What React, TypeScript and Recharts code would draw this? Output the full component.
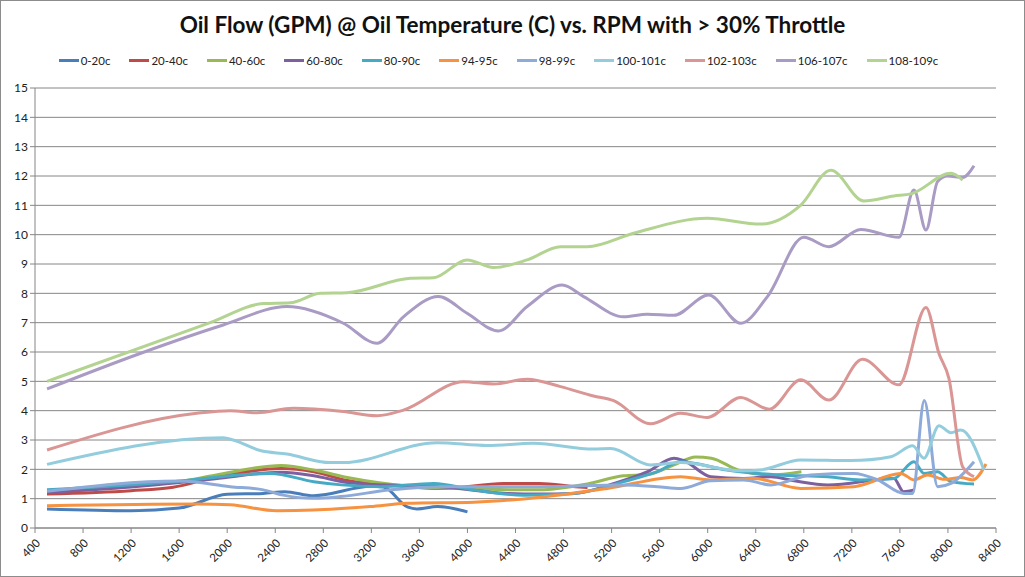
import { CartesianGrid, Legend, Line, LineChart, XAxis, YAxis } from "recharts"

// oil flow (gpm) by rpm, one list per oil temperature band
const s0to20 = [
  { rpm: 500, gpm: 0.65 }, { rpm: 1200, gpm: 0.59 }, { rpm: 1600, gpm: 0.68 },
  { rpm: 2000, gpm: 1.15 }, { rpm: 2300, gpm: 1.18 }, { rpm: 2480, gpm: 1.24 },
  { rpm: 2720, gpm: 1.1 }, { rpm: 3200, gpm: 1.42 }, { rpm: 3300, gpm: 1.4 },
  { rpm: 3500, gpm: 0.72 }, { rpm: 3580, gpm: 0.65 }, { rpm: 3750, gpm: 0.73 },
  { rpm: 4000, gpm: 0.55 },
]
const s20to40 = [
  { rpm: 500, gpm: 1.16 }, { rpm: 1200, gpm: 1.27 }, { rpm: 1550, gpm: 1.39 },
  { rpm: 1900, gpm: 1.73 }, { rpm: 2450, gpm: 2.03 }, { rpm: 2720, gpm: 1.92 },
  { rpm: 3000, gpm: 1.62 }, { rpm: 3200, gpm: 1.52 }, { rpm: 3500, gpm: 1.41 },
  { rpm: 3800, gpm: 1.35 }, { rpm: 4300, gpm: 1.52 }, { rpm: 4600, gpm: 1.52 },
  { rpm: 4900, gpm: 1.41 }, { rpm: 5000, gpm: 1.38 },
]
const s40to60 = [
  { rpm: 500, gpm: 1.25 }, { rpm: 1200, gpm: 1.45 }, { rpm: 1600, gpm: 1.58 },
  { rpm: 1900, gpm: 1.8 }, { rpm: 2450, gpm: 2.13 }, { rpm: 2750, gpm: 1.95 },
  { rpm: 3000, gpm: 1.72 }, { rpm: 3250, gpm: 1.55 }, { rpm: 3750, gpm: 1.36 },
  { rpm: 4600, gpm: 1.3 }, { rpm: 5000, gpm: 1.5 }, { rpm: 5300, gpm: 1.78 },
  { rpm: 5500, gpm: 1.82 }, { rpm: 5720, gpm: 2.15 }, { rpm: 5900, gpm: 2.42 },
  { rpm: 6030, gpm: 2.38 }, { rpm: 6250, gpm: 1.98 }, { rpm: 6520, gpm: 1.81 },
  { rpm: 6780, gpm: 1.92 },
]
const s60to80 = [
  { rpm: 500, gpm: 1.22 }, { rpm: 1200, gpm: 1.4 }, { rpm: 1600, gpm: 1.55 },
  { rpm: 1900, gpm: 1.68 }, { rpm: 2450, gpm: 1.9 }, { rpm: 2720, gpm: 1.78 },
  { rpm: 3000, gpm: 1.55 }, { rpm: 3200, gpm: 1.48 }, { rpm: 3775, gpm: 1.41 },
  { rpm: 4330, gpm: 1.18 }, { rpm: 4600, gpm: 1.16 }, { rpm: 4890, gpm: 1.18 },
  { rpm: 5220, gpm: 1.52 }, { rpm: 5500, gpm: 1.92 }, { rpm: 5720, gpm: 2.38 },
  { rpm: 5800, gpm: 2.3 }, { rpm: 6025, gpm: 1.75 }, { rpm: 6300, gpm: 1.69 },
  { rpm: 6525, gpm: 1.75 }, { rpm: 6720, gpm: 1.61 }, { rpm: 7000, gpm: 1.47 },
  { rpm: 7550, gpm: 1.69 }, { rpm: 7630, gpm: 1.24 }, { rpm: 7720, gpm: 1.3 },
]
const s80to90 = [
  { rpm: 500, gpm: 1.3 }, { rpm: 1550, gpm: 1.58 }, { rpm: 2360, gpm: 1.86 },
  { rpm: 2720, gpm: 1.58 }, { rpm: 2950, gpm: 1.47 }, { rpm: 3275, gpm: 1.41 },
  { rpm: 3720, gpm: 1.52 }, { rpm: 4050, gpm: 1.3 }, { rpm: 4470, gpm: 1.12 },
  { rpm: 4890, gpm: 1.18 }, { rpm: 5300, gpm: 1.58 }, { rpm: 5580, gpm: 1.92 },
  { rpm: 5775, gpm: 2.26 }, { rpm: 6160, gpm: 1.98 }, { rpm: 6580, gpm: 1.81 },
  { rpm: 7000, gpm: 1.75 }, { rpm: 7275, gpm: 1.64 }, { rpm: 7550, gpm: 1.69 },
  { rpm: 7717, gpm: 2.26 }, { rpm: 7800, gpm: 1.86 }, { rpm: 7914, gpm: 1.92 },
  { rpm: 8025, gpm: 1.58 }, { rpm: 8217, gpm: 1.5 },
]
const s94to95 = [
  { rpm: 500, gpm: 0.76 }, { rpm: 1750, gpm: 0.82 }, { rpm: 2025, gpm: 0.79 },
  { rpm: 2414, gpm: 0.59 }, { rpm: 2717, gpm: 0.61 }, { rpm: 3192, gpm: 0.73 },
  { rpm: 3497, gpm: 0.84 }, { rpm: 4053, gpm: 0.88 }, { rpm: 4608, gpm: 1.05 },
  { rpm: 5164, gpm: 1.35 }, { rpm: 5775, gpm: 1.75 }, { rpm: 6025, gpm: 1.64 },
  { rpm: 6383, gpm: 1.69 }, { rpm: 6775, gpm: 1.35 }, { rpm: 7217, gpm: 1.41 },
  { rpm: 7608, gpm: 1.86 }, { rpm: 7717, gpm: 1.64 }, { rpm: 7831, gpm: 1.81 },
  { rpm: 7969, gpm: 1.66 }, { rpm: 8108, gpm: 1.72 }, { rpm: 8206, gpm: 1.64 },
  { rpm: 8317, gpm: 2.18 },
]
const s98to99 = [
  { rpm: 500, gpm: 1.25 }, { rpm: 1600, gpm: 1.6 }, { rpm: 2025, gpm: 1.41 },
  { rpm: 2300, gpm: 1.3 }, { rpm: 2467, gpm: 1.12 }, { rpm: 2717, gpm: 1.01 },
  { rpm: 2942, gpm: 1.07 }, { rpm: 3358, gpm: 1.3 }, { rpm: 3775, gpm: 1.41 },
  { rpm: 4608, gpm: 1.41 }, { rpm: 5300, gpm: 1.47 }, { rpm: 5581, gpm: 1.41 },
  { rpm: 5775, gpm: 1.35 }, { rpm: 6025, gpm: 1.61 }, { rpm: 6300, gpm: 1.64 },
  { rpm: 6525, gpm: 1.47 }, { rpm: 6858, gpm: 1.81 }, { rpm: 7217, gpm: 1.86 },
  { rpm: 7414, gpm: 1.64 }, { rpm: 7633, gpm: 1.18 }, { rpm: 7706, gpm: 1.18 },
  { rpm: 7803, gpm: 4.35 }, { rpm: 7914, gpm: 1.41 }, { rpm: 8025, gpm: 1.52 },
  { rpm: 8217, gpm: 2.26 },
]
const s100to101 = [
  { rpm: 500, gpm: 2.17 }, { rpm: 1967, gpm: 3.08 }, { rpm: 2050, gpm: 3.0 },
  { rpm: 2275, gpm: 2.64 }, { rpm: 2497, gpm: 2.52 }, { rpm: 2858, gpm: 2.23 },
  { rpm: 2967, gpm: 2.23 }, { rpm: 3747, gpm: 2.91 }, { rpm: 4164, gpm: 2.81 },
  { rpm: 4550, gpm: 2.89 }, { rpm: 5050, gpm: 2.69 }, { rpm: 5192, gpm: 2.71 },
  { rpm: 5525, gpm: 2.15 }, { rpm: 5775, gpm: 2.23 }, { rpm: 6275, gpm: 1.95 },
  { rpm: 6442, gpm: 1.98 }, { rpm: 6775, gpm: 2.32 }, { rpm: 7192, gpm: 2.3 },
  { rpm: 7525, gpm: 2.43 }, { rpm: 7706, gpm: 2.8 }, { rpm: 7800, gpm: 2.38 },
  { rpm: 7925, gpm: 3.49 }, { rpm: 8025, gpm: 3.25 }, { rpm: 8108, gpm: 3.34 },
  { rpm: 8300, gpm: 1.98 },
]
const s102to103 = [
  { rpm: 500, gpm: 2.66 }, { rpm: 1747, gpm: 3.91 }, { rpm: 2025, gpm: 4.0 },
  { rpm: 2247, gpm: 3.93 }, { rpm: 2550, gpm: 4.08 }, { rpm: 2967, gpm: 3.97 },
  { rpm: 3247, gpm: 3.83 }, { rpm: 3467, gpm: 4.02 }, { rpm: 3967, gpm: 4.99 },
  { rpm: 4217, gpm: 4.91 }, { rpm: 4497, gpm: 5.07 }, { rpm: 4775, gpm: 4.82 },
  { rpm: 5050, gpm: 4.5 }, { rpm: 5217, gpm: 4.34 }, { rpm: 5525, gpm: 3.55 },
  { rpm: 5775, gpm: 3.91 }, { rpm: 5997, gpm: 3.77 }, { rpm: 6275, gpm: 4.45 },
  { rpm: 6511, gpm: 4.05 }, { rpm: 6775, gpm: 5.05 }, { rpm: 7008, gpm: 4.36 },
  { rpm: 7289, gpm: 5.75 }, { rpm: 7592, gpm: 4.88 }, { rpm: 7817, gpm: 7.52 },
  { rpm: 7925, gpm: 5.95 }, { rpm: 8008, gpm: 5.1 }, { rpm: 8122, gpm: 2.09 },
  { rpm: 8217, gpm: 1.75 },
]
const s106to107 = [
  { rpm: 500, gpm: 4.74 }, { rpm: 1275, gpm: 5.95 }, { rpm: 1967, gpm: 6.92 },
  { rpm: 2497, gpm: 7.55 }, { rpm: 2967, gpm: 6.98 }, { rpm: 3247, gpm: 6.3 },
  { rpm: 3467, gpm: 7.2 }, { rpm: 3758, gpm: 7.89 }, { rpm: 3997, gpm: 7.32 },
  { rpm: 4258, gpm: 6.72 }, { rpm: 4497, gpm: 7.55 }, { rpm: 4789, gpm: 8.28 },
  { rpm: 4967, gpm: 7.89 }, { rpm: 5300, gpm: 7.2 }, { rpm: 5497, gpm: 7.29 },
  { rpm: 5717, gpm: 7.25 }, { rpm: 6008, gpm: 7.94 }, { rpm: 6275, gpm: 6.98 },
  { rpm: 6497, gpm: 7.89 }, { rpm: 6800, gpm: 9.91 }, { rpm: 7008, gpm: 9.59 },
  { rpm: 7275, gpm: 10.18 }, { rpm: 7592, gpm: 9.91 }, { rpm: 7717, gpm: 11.52 },
  { rpm: 7817, gpm: 10.16 }, { rpm: 7914, gpm: 11.81 }, { rpm: 7997, gpm: 12.0 },
  { rpm: 8122, gpm: 11.95 }, { rpm: 8217, gpm: 12.35 },
]
const s108to109 = [
  { rpm: 500, gpm: 5.0 }, { rpm: 1858, gpm: 7.0 }, { rpm: 2300, gpm: 7.65 },
  { rpm: 2525, gpm: 7.68 }, { rpm: 2775, gpm: 8.0 }, { rpm: 2997, gpm: 8.02 },
  { rpm: 3525, gpm: 8.51 }, { rpm: 3717, gpm: 8.53 }, { rpm: 3997, gpm: 9.14 },
  { rpm: 4217, gpm: 8.88 }, { rpm: 4497, gpm: 9.14 }, { rpm: 4775, gpm: 9.59 },
  { rpm: 4997, gpm: 9.59 }, { rpm: 5383, gpm: 10.05 }, { rpm: 5997, gpm: 10.56 },
  { rpm: 6442, gpm: 10.36 }, { rpm: 6775, gpm: 11.01 }, { rpm: 7025, gpm: 12.2 },
  { rpm: 7300, gpm: 11.15 }, { rpm: 7550, gpm: 11.32 }, { rpm: 7692, gpm: 11.39 },
  { rpm: 8025, gpm: 12.09 }, { rpm: 8122, gpm: 11.86 },
]

const xTicks = [
  400, 800, 1200, 1600, 2000, 2400, 2800, 3200, 3600, 4000, 4400,
  4800, 5200, 5600, 6000, 6400, 6800, 7200, 7600, 8000, 8400,
]
const yTicks = [0, 1, 2, 3, 4, 5, 6, 7, 8, 9, 10, 11, 12, 13, 14, 15]

const series = [
  { name: "0-20c", color: "#4a7ebb", data: s0to20 },
  { name: "20-40c", color: "#be4b48", data: s20to40 },
  { name: "40-60c", color: "#98b954", data: s40to60 },
  { name: "60-80c", color: "#7d60a0", data: s60to80 },
  { name: "80-90c", color: "#46aac5", data: s80to90 },
  { name: "94-95c", color: "#f69240", data: s94to95 },
  { name: "98-99c", color: "#8eaad8", data: s98to99 },
  { name: "100-101c", color: "#93cddd", data: s100to101 },
  { name: "102-103c", color: "#d99694", data: s102to103 },
  { name: "106-107c", color: "#a99bc4", data: s106to107 },
  { name: "108-109c", color: "#b3d391", data: s108to109 },
]
const seriesOrder = series.map((s) => s.name)

const FONT = "Lato, 'Liberation Sans', sans-serif"
const GRID = "#868686"

const XTick = (props: any) => {
  const { x, y, payload } = props
  return (
    <g transform={`translate(${x + 3},${y + 6})`}>
      <text
        x={0}
        y={0}
        dy="0.35em"
        textAnchor="end"
        transform="rotate(-45)"
        fontFamily={FONT}
        fontSize={11.5}
        fill="#222">
        {payload.value}
      </text>
    </g>
  )
}

// keep the legend in series order (recharts sorts it by name otherwise)
const LegendRow = (props: any) => {
  const items = [...(props.payload || [])].sort(
    (a: any, b: any) => seriesOrder.indexOf(a.value) - seriesOrder.indexOf(b.value)
  )
  return (
    <div
      style={{
        display: "flex",
        justifyContent: "center",
        gap: 19,
        fontFamily: FONT,
        fontSize: 11.5,
        color: "#222",
        height: 20,
        alignItems: "center",
      }}>
      {items.map((it: any) => (
        <div key={it.value} style={{ display: "flex", alignItems: "center" }}>
          <span
            style={{
              display: "inline-block",
              width: 20,
              height: 3,
              background: it.color,
              marginRight: 2,
            }}
          />
          <span>{it.value}</span>
        </div>
      ))}
    </div>
  )
}

export default function App() {
  return (
    <div
      style={{
        position: "absolute",
        left: 0,
        top: 0,
        width: 1025,
        height: 577,
        background: "#fff",
        border: "1px solid #8c8c8c",
        boxSizing: "border-box",
        fontFamily: FONT,
      }}>
      <div
        style={{
          position: "absolute",
          top: 10,
          left: 0,
          width: 1023,
          textAlign: "center",
          fontSize: 22.5,
          fontWeight: 700,
          color: "#111",
        }}>
        Oil Flow (GPM) @ Oil Temperature (C) vs. RPM with &gt; 30% Throttle
      </div>
      <LineChart
        width={1023}
        height={575}
        margin={{ top: 67, right: 28, bottom: 0, left: 0 }}>
        <CartesianGrid vertical={false} stroke={GRID} />
        <XAxis
          type="number"
          dataKey="rpm"
          domain={[400, 8400]}
          ticks={xTicks}
          interval={0}
          height={48}
          stroke={GRID}
          tickSize={5}
          tick={<XTick />}
          allowDuplicatedCategory={false}
        />
        <YAxis
          type="number"
          domain={[0, 15]}
          ticks={yTicks}
          interval={0}
          width={34}
          stroke={GRID}
          tickSize={5}
          tick={{ fontSize: 12, fontFamily: FONT, fill: "#222" }}
        />
        <Legend
          verticalAlign="top"
          align="center"
          content={<LegendRow />}
          wrapperStyle={{ top: 49 }}
        />
        {series.map((s) => (
          <Line
            key={s.name}
            data={s.data}
            dataKey="gpm"
            name={s.name}
            type="monotone"
            stroke={s.color}
            strokeWidth={3}
            dot={false}
            activeDot={false}
            isAnimationActive={false}
          />
        ))}
      </LineChart>
    </div>
  )
}
